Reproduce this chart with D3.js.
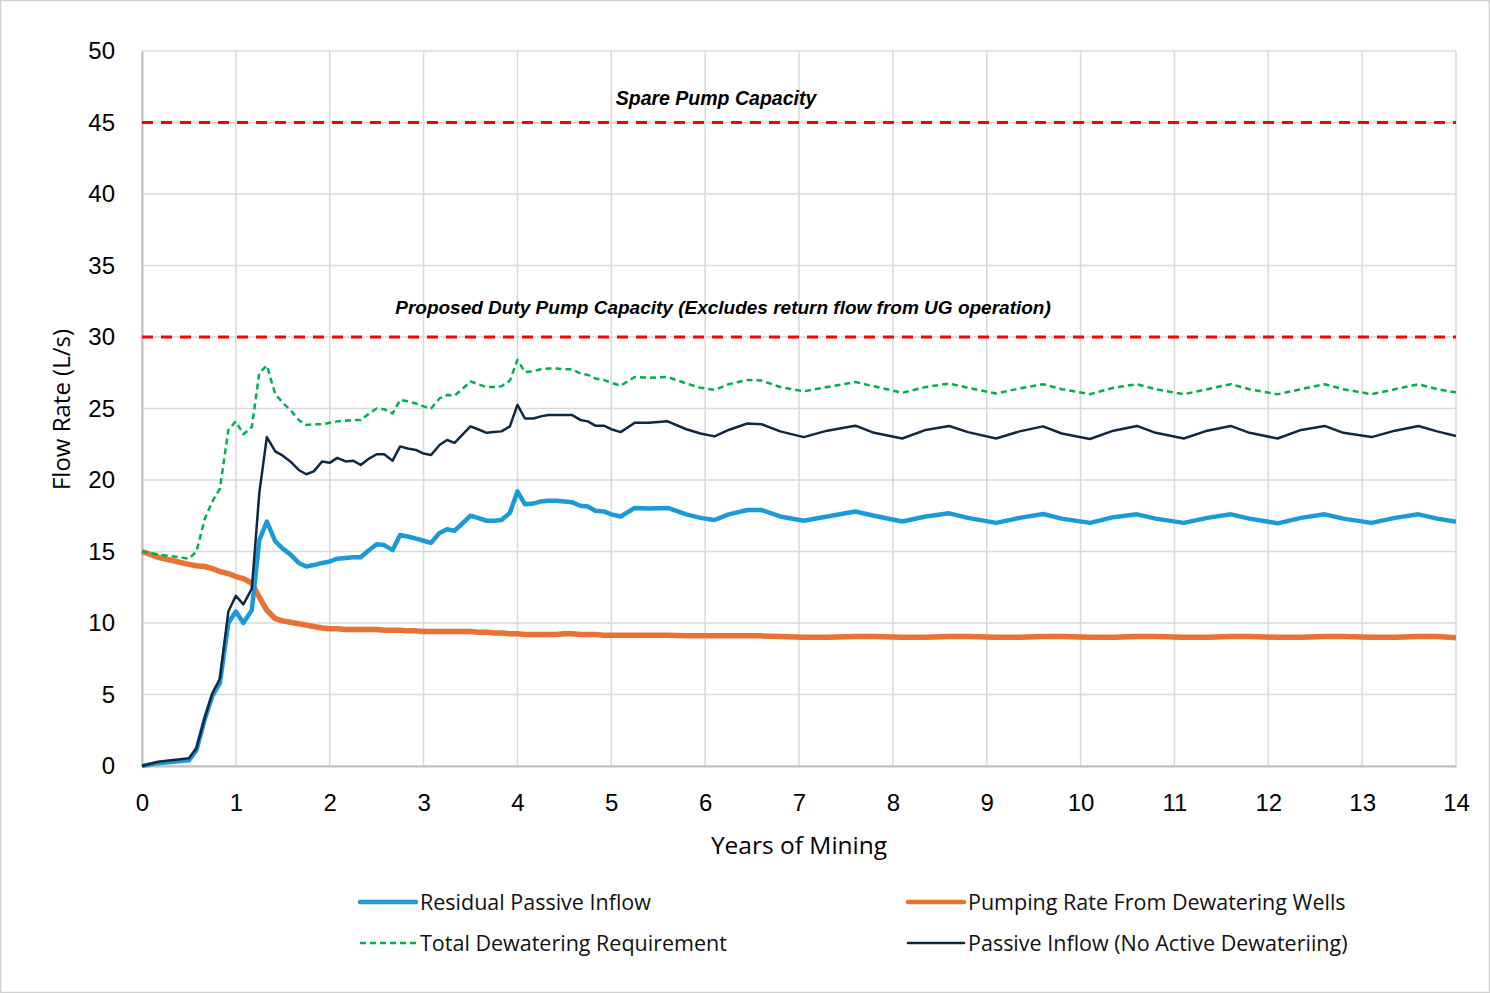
<!DOCTYPE html>
<html>
<head>
<meta charset="utf-8">
<script src="https://cdn.jsdelivr.net/npm/d3@7"></script>
<style>
  body { margin: 0; background: #fff; }
  svg { display: block; }
</style>
</head>
<body>
<div id="graph"></div>
<script>
// years of mining (shared x for every series)
var years = [0, 0.17, 0.5, 0.58, 0.67, 0.75, 0.83, 0.92, 1.0, 1.08, 1.17, 1.25, 1.33, 1.42, 1.5, 1.58, 1.67, 1.75, 1.83, 1.92,
  2.0, 2.08, 2.17, 2.25, 2.33, 2.42, 2.5, 2.58, 2.67, 2.75, 2.83, 2.92, 3.0, 3.08, 3.17, 3.25, 3.33, 3.42, 3.5, 3.58,
  3.67, 3.75, 3.83, 3.92, 4.0, 4.08, 4.17, 4.25, 4.33, 4.42, 4.5, 4.58, 4.67, 4.75, 4.83, 4.92, 5.0, 5.1, 5.25, 5.4,
  5.6, 5.8, 5.95, 6.1, 6.25, 6.45, 6.6, 6.8, 7.05, 7.3, 7.6, 7.8, 8.1, 8.35, 8.6, 8.8, 9.1, 9.35, 9.6, 9.8,
  10.1, 10.35, 10.6, 10.8, 11.1, 11.35, 11.6, 11.8, 12.1, 12.35, 12.6, 12.8, 13.1, 13.35, 13.6, 13.8, 14.0];

var residualInflow = [0, 0.2, 0.4, 1.1, 3.3, 4.9, 5.8, 10.0, 10.8, 10.0, 10.9, 15.8, 17.1, 15.7, 15.2, 14.8, 14.2, 13.95, 14.05, 14.2,
  14.3, 14.5, 14.55, 14.6, 14.6, 15.1, 15.5, 15.45, 15.1, 16.15, 16.05, 15.9, 15.75, 15.6, 16.3, 16.55, 16.45, 17.0, 17.5, 17.35,
  17.15, 17.15, 17.2, 17.7, 19.2, 18.3, 18.35, 18.5, 18.55, 18.55, 18.5, 18.45, 18.2, 18.15, 17.85, 17.8, 17.6, 17.45, 18.05, 18.0,
  18.05, 17.6, 17.35, 17.2, 17.6, 17.9, 17.9, 17.45, 17.15, 17.45, 17.8, 17.5, 17.1, 17.45, 17.67, 17.35, 17.0, 17.35, 17.62, 17.3,
  17.0, 17.4, 17.6, 17.3, 17.0, 17.35, 17.6, 17.3, 16.97, 17.35, 17.6, 17.3, 17.0, 17.35, 17.6, 17.3, 17.08];

var pumpingRate = [15.0, 14.6, 14.1, 14.0, 13.95, 13.8, 13.6, 13.45, 13.25, 13.1, 12.8, 11.8, 10.9, 10.3, 10.15, 10.05, 9.95, 9.85, 9.75, 9.65,
  9.6, 9.6, 9.55, 9.55, 9.55, 9.55, 9.55, 9.5, 9.5, 9.5, 9.45, 9.45, 9.4, 9.4, 9.4, 9.4, 9.4, 9.4, 9.4, 9.35,
  9.35, 9.3, 9.3, 9.25, 9.25, 9.2, 9.2, 9.2, 9.2, 9.2, 9.25, 9.25, 9.2, 9.2, 9.2, 9.15, 9.15, 9.15, 9.15, 9.15,
  9.15, 9.1, 9.1, 9.1, 9.1, 9.1, 9.1, 9.05, 9.0, 9.0, 9.05, 9.05, 9.0, 9.0, 9.05, 9.05, 9.0, 9.0, 9.05, 9.05,
  9.0, 9.0, 9.05, 9.05, 9.0, 9.0, 9.05, 9.05, 9.0, 9.0, 9.05, 9.05, 9.0, 9.0, 9.05, 9.05, 8.97];

var totalRequirement = [15.0, 14.8, 14.5, 15.0, 17.3, 18.5, 19.4, 23.5, 24.1, 23.2, 23.7, 27.5, 28.0, 26.0, 25.4, 24.9, 24.2, 23.85, 23.9, 23.9,
  24.0, 24.1, 24.15, 24.2, 24.2, 24.65, 25.0, 24.95, 24.65, 25.6, 25.5, 25.35, 25.15, 25.0, 25.7, 25.95, 25.9, 26.4, 26.9, 26.7,
  26.5, 26.5, 26.55, 26.95, 28.4, 27.55, 27.6, 27.75, 27.8, 27.8, 27.75, 27.75, 27.45, 27.35, 27.1, 27.0, 26.8, 26.6, 27.2, 27.15,
  27.2, 26.75, 26.45, 26.3, 26.7, 27.0, 26.95, 26.5, 26.2, 26.5, 26.85, 26.55, 26.1, 26.5, 26.75, 26.45, 26.05, 26.4, 26.7, 26.35,
  26.0, 26.45, 26.7, 26.35, 26.0, 26.35, 26.7, 26.35, 26.0, 26.35, 26.7, 26.35, 26.0, 26.35, 26.7, 26.35, 26.13];

var passiveInflow = [0, 0.3, 0.55, 1.25, 3.4, 5.1, 6.1, 10.8, 11.9, 11.3, 12.4, 19.1, 23.0, 22.0, 21.7, 21.3, 20.7, 20.4, 20.6, 21.3,
  21.2, 21.55, 21.3, 21.35, 21.05, 21.5, 21.8, 21.8, 21.35, 22.35, 22.2, 22.1, 21.85, 21.75, 22.45, 22.8, 22.6, 23.2, 23.75, 23.55,
  23.3, 23.35, 23.4, 23.75, 25.25, 24.3, 24.3, 24.45, 24.55, 24.55, 24.55, 24.55, 24.2, 24.1, 23.8, 23.8, 23.55, 23.35, 24.0, 24.0,
  24.1, 23.55, 23.25, 23.05, 23.5, 23.95, 23.9, 23.4, 23.0, 23.45, 23.8, 23.3, 22.9, 23.5, 23.78, 23.35, 22.9, 23.4, 23.75, 23.25,
  22.87, 23.45, 23.78, 23.3, 22.9, 23.45, 23.78, 23.3, 22.9, 23.5, 23.78, 23.3, 23.0, 23.45, 23.78, 23.4, 23.08];

var capacityValues = [45, 30];
var capacityLabels = ["Spare Pump Capacity", "Proposed Duty Pump Capacity (Excludes return flow from UG operation)"];

var xTicks = d3.range(0, 15, 1);
var yTicks = d3.range(0, 55, 5);

var seriesNames = ["Residual Passive Inflow", "Pumping Rate From Dewatering Wells", "Total Dewatering Requirement", "Passive Inflow (No Active Dewateriing)"];

drawChart();

function drawChart() {
  var W = 1490, H = 993;
  var plotLeft = 142, plotRight = 1456, plotTop = 51, plotBottom = 766;

  var x = d3.scaleLinear().domain([0, 14]).range([plotLeft, plotRight]);
  var y = d3.scaleLinear().domain([0, 50]).range([plotBottom, plotTop]);

  var svg = d3.select("#graph").append("svg")
    .attr("width", W)
    .attr("height", H);

  // outer frame
  svg.append("rect")
    .attr("x", 0.5).attr("y", 0.5)
    .attr("width", W - 1).attr("height", H - 1)
    .attr("fill", "#fff")
    .attr("stroke", "#d0d0d0")
    .attr("stroke-width", 1.5);

  // grid
  svg.append("g")
    .selectAll("line")
    .data(yTicks)
    .enter().append("line")
    .attr("x1", plotLeft).attr("x2", plotRight)
    .attr("y1", function (d) { return y(d); })
    .attr("y2", function (d) { return y(d); })
    .attr("stroke", "#d9d9d9")
    .attr("stroke-width", 1.5);

  svg.append("g")
    .selectAll("line")
    .data(xTicks)
    .enter().append("line")
    .attr("x1", function (d) { return x(d); })
    .attr("x2", function (d) { return x(d); })
    .attr("y1", plotTop).attr("y2", plotBottom)
    .attr("stroke", "#d9d9d9")
    .attr("stroke-width", 1.5);

  // axes
  var xAxis = svg.append("g")
    .attr("transform", "translate(0," + plotBottom + ")")
    .call(d3.axisBottom(x).tickValues(xTicks).tickSize(0).tickPadding(37).tickFormat(d3.format("d")));
  var yAxis = svg.append("g")
    .attr("transform", "translate(" + plotLeft + ",0)")
    .call(d3.axisLeft(y).tickValues(yTicks).tickSize(0).tickPadding(27).tickFormat(d3.format("d")));

  [xAxis, yAxis].forEach(function (g) {
    g.select(".domain").attr("stroke", "#bfbfbf").attr("stroke-width", 2);
    g.selectAll("text")
      .attr("font-family", "'Liberation Sans', Arial, sans-serif")
      .attr("font-size", "24px")
      .attr("fill", "#000");
  });
  xAxis.selectAll("text").attr("dy", "0.35em");

  // axis titles
  svg.append("text")
    .attr("x", (plotLeft + plotRight) / 2)
    .attr("y", 854)
    .attr("text-anchor", "middle")
    .attr("font-family", "'Open Sans', 'Noto Sans', sans-serif")
    .attr("font-size", "24.5px")
    .attr("fill", "#000")
    .text("Years of Mining");

  svg.append("text")
    .attr("transform", "translate(70," + ((plotTop + plotBottom) / 2 + 1) + ") rotate(-90)")
    .attr("text-anchor", "middle")
    .attr("font-family", "'Open Sans', 'Noto Sans', sans-serif")
    .attr("font-size", "24px")
    .attr("fill", "#000")
    .text("Flow Rate (L/s)");

  // capacity lines
  svg.append("g")
    .selectAll("line")
    .data(capacityValues)
    .enter().append("line")
    .attr("x1", plotLeft).attr("x2", plotRight)
    .attr("y1", function (d) { return y(d); })
    .attr("y2", function (d) { return y(d); })
    .attr("stroke", "#ff0000")
    .attr("stroke-width", 3)
    .attr("stroke-dasharray", "11,8");

  svg.append("g")
    .selectAll("text")
    .data(capacityValues)
    .enter().append("text")
    .attr("x", function (d, i) { return i === 0 ? 716 : 723; })
    .attr("y", function (d, i) { return y(d) - (i === 0 ? 18 : 23); })
    .attr("text-anchor", "middle")
    .attr("font-family", "'Liberation Sans Narrow', 'Liberation Sans', Arial, sans-serif")
    .attr("font-style", "italic")
    .attr("font-weight", "bold")
    .attr("font-size", function (d, i) { return i === 0 ? "19.5px" : "19px"; })
    .attr("fill", "#000")
    .text(function (d, i) { return capacityLabels[i]; });

  // series
  var styles = [
    { values: residualInflow, color: "#1a9ad6", width: 4.5, dash: null },
    { values: pumpingRate, color: "#e97132", width: 5.5, dash: null },
    { values: totalRequirement, color: "#00b050", width: 2.5, dash: "6,4" },
    { values: passiveInflow, color: "#0e2841", width: 2.5, dash: null }
  ];

  var line = d3.line()
    .x(function (d) { return x(d[0]); })
    .y(function (d) { return y(d[1]); });

  // draw order: orange, blue, green, navy on top
  [1, 0, 2, 3].forEach(function (k) {
    var s = styles[k];
    svg.append("path")
      .datum(years.map(function (yr, i) { return [yr, s.values[i]]; }))
      .attr("d", line)
      .attr("fill", "none")
      .attr("stroke", s.color)
      .attr("stroke-width", s.width)
      .attr("stroke-linejoin", "round")
      .attr("stroke-dasharray", s.dash);
  });

  // legend
  var legendPos = [[360, 902], [908, 902], [360, 943], [908, 943]];
  var legend = svg.append("g")
    .selectAll("g")
    .data(seriesNames)
    .enter().append("g")
    .attr("transform", function (d, i) { return "translate(" + legendPos[i][0] + "," + legendPos[i][1] + ")"; });

  legend.append("line")
    .attr("x1", 0).attr("x2", 56)
    .attr("y1", 0).attr("y2", 0)
    .attr("stroke", function (d, i) { return styles[i].color; })
    .attr("stroke-width", function (d, i) { return Math.min(styles[i].width, 4.5); })
    .attr("stroke-linecap", function (d, i) { return styles[i].dash ? "butt" : "round"; })
    .attr("stroke-dasharray", function (d, i) { return styles[i].dash; });

  legend.append("text")
    .attr("x", 60)
    .attr("y", 0)
    .attr("dy", "0.35em")
    .attr("font-family", "'Open Sans', 'Noto Sans', sans-serif")
    .attr("font-size", "21.5px")
    .attr("fill", "#111")
    .text(function (d) { return d; });
}
</script>
</body>
</html>
